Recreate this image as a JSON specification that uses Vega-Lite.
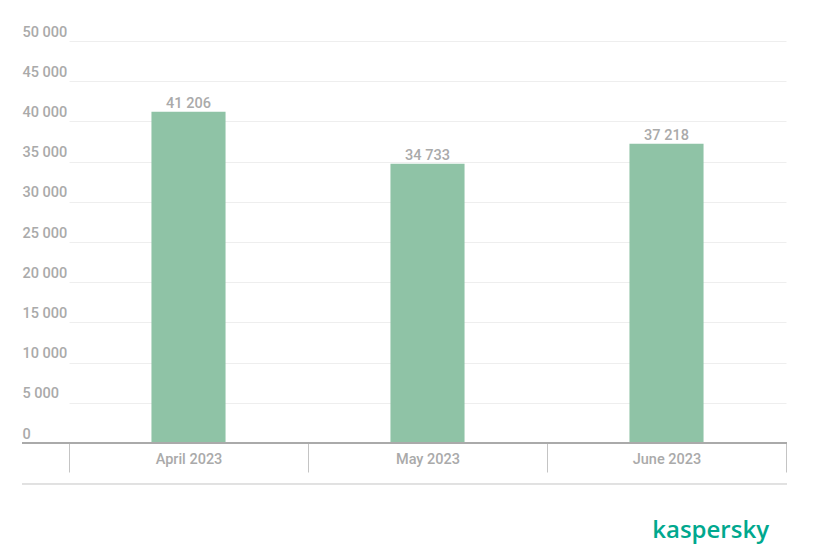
{
  "$schema": "https://vega.github.io/schema/vega-lite/v6.json",
  "width": 765,
  "height": 402,
  "autosize": {"type": "none"},
  "padding": {"left": 22, "top": 41, "right": 34, "bottom": 106},
  "background": "white",
  "config": {
    "view": {"stroke": null},
    "font": "Roboto",
    "locale": {"number": {"decimal": ".", "thousands": " ", "grouping": [3], "currency": ["", ""]}}
  },
  "title": {
    "text": "kaspersky",
    "orient": "bottom",
    "anchor": "end",
    "color": "#00a88e",
    "font": "Open Sans",
    "fontSize": 24,
    "fontWeight": 600,
    "offset": 34,
    "dx": -19
  },
  "data": {
    "values": [
      {"month": "April 2023", "value": 41206},
      {"month": "May 2023", "value": 34733},
      {"month": "June 2023", "value": 37218}
    ]
  },
  "layer": [
    {
      "mark": {"type": "bar", "color": "#8fc3a6", "width": {"band": 0.31}},
      "encoding": {
        "x": {
          "field": "month",
          "type": "nominal",
          "sort": null,
          "scale": {"range": [47, 764], "paddingInner": 0, "paddingOuter": 0},
          "axis": {
            "title": null,
            "labelAngle": 0,
            "domain": false,
            "tickBand": "extent",
            "tickSize": 29,
            "tickColor": "#c4c4c4",
            "tickWidth": 1,
            "labelPadding": -20,
            "labelColor": "#aaaaaa",
            "labelFont": "Roboto",
            "labelFontSize": 14.5,
            "labelFontWeight": 500
          }
        },
        "y": {
          "field": "value",
          "type": "quantitative",
          "scale": {"domain": [0, 50000], "nice": false},
          "axis": {
            "title": null,
            "values": [0, 5000, 10000, 15000, 20000, 25000, 30000, 35000, 40000, 45000, 50000],
            "format": ",d",
            "domain": false,
            "ticks": false,
            "tickSize": 0,
            "labelPadding": 0,
            "labelAlign": "left",
            "labelBaseline": "alphabetic",
            "labelOffset": -5,
            "labelColor": "#aaaaaa",
            "labelFont": "Roboto",
            "labelFontSize": 14.5,
            "labelFontWeight": 500,
            "gridColor": "#eeeeee",
            "gridWidth": 1
          }
        }
      }
    },
    {
      "mark": {"type": "text", "baseline": "alphabetic", "dy": -4, "color": "#aaaaaa", "font": "Roboto", "fontSize": 14.5, "fontWeight": 500},
      "encoding": {
        "x": {"field": "month", "type": "nominal", "sort": null},
        "y": {"field": "value", "type": "quantitative"},
        "text": {"field": "value", "type": "quantitative", "format": ",d"}
      }
    },
    {
      "mark": {"type": "rule", "color": "#aaaaaa", "strokeWidth": 2},
      "encoding": {
        "y": {"datum": 0, "type": "quantitative"}
      }
    },
    {
      "mark": {"type": "rule", "color": "#dddddd", "strokeWidth": 1},
      "encoding": {
        "y": {"datum": -5100, "type": "quantitative"}
      }
    }
  ]
}
